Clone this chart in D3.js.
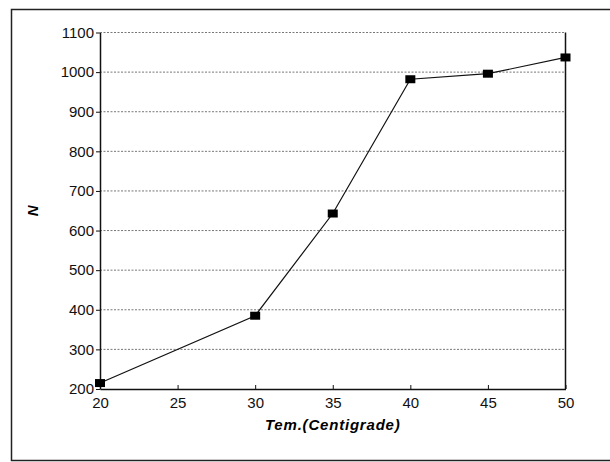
<!DOCTYPE html>
<html>
<head>
<meta charset="utf-8">
<script src="https://cdn.jsdelivr.net/npm/d3@7"></script>
<style>
  body { margin: 0; background: #fff; }
  svg { display: block; }
</style>
</head>
<body>
<div class="canvas"></div>
<script>
// values
const temps = [20, 30, 35, 40, 45, 50];
const counts = [215, 385, 643, 982, 996, 1037];
const xTicks = [20, 25, 30, 35, 40, 45, 50];
const yTicks = [200, 300, 400, 500, 600, 700, 800, 900, 1000, 1100];

const dims = { width: 610, height: 462 };
const margin = { left: 100, top: 32.5, right: 44.5, bottom: 73 };
const plotW = dims.width - margin.left - margin.right;
const plotH = dims.height - margin.top - margin.bottom;
const font = '"Liberation Sans", Arial, sans-serif';

const svg = d3.select('.canvas').append('svg')
    .attr('width', dims.width)
    .attr('height', dims.height);

// outer frame (right side runs off the picture)
svg.append('path')
    .attr('d', 'M640,9.5 H11.5 V460.5 H640')
    .attr('fill', 'none')
    .attr('stroke', '#222')
    .attr('stroke-width', 1.5);

const g = svg.append('g')
    .attr('transform', `translate(${margin.left},${margin.top})`);

const x = d3.scaleLinear().domain([20, 50]).range([0, plotW]);
const y = d3.scaleLinear().domain([200, 1100]).range([plotH, 0]);

// dotted grid
g.append('g')
    .selectAll('line')
    .data(yTicks.filter(d => d > 200))
    .join('line')
    .attr('x1', 0)
    .attr('x2', plotW)
    .attr('y1', d => y(d))
    .attr('y2', d => y(d))
    .attr('stroke', '#777')
    .attr('stroke-width', 1)
    .attr('stroke-dasharray', '2,1.5');

// right border
g.append('line')
    .attr('x1', plotW).attr('x2', plotW)
    .attr('y1', 0).attr('y2', plotH)
    .attr('stroke', '#111').attr('stroke-width', 1.5);

const xAxis = g.append('g')
    .attr('transform', `translate(0,${plotH})`)
    .call(d3.axisBottom(x).tickValues(xTicks).tickFormat(d3.format('d'))
        .tickSize(-4).tickPadding(8).tickSizeOuter(0));

const yAxis = g.append('g')
    .call(d3.axisLeft(y).tickValues(yTicks).tickFormat(d3.format('d'))
        .tickSize(4).tickPadding(2).tickSizeOuter(0));

g.selectAll('.tick text')
    .style('font-family', font)
    .style('font-size', '15px')
    .attr('fill', '#111');
xAxis.selectAll('.tick text').attr('dy', '0.71em');
g.selectAll('.domain').attr('stroke', '#111').attr('stroke-width', 1.5);
g.selectAll('.tick line').attr('stroke', '#111');

// series
const line = d3.line()
    .x((d, i) => x(temps[i]))
    .y(d => y(d));

g.append('path')
    .datum(counts)
    .attr('d', line)
    .attr('fill', 'none')
    .attr('stroke', '#111')
    .attr('stroke-width', 1.2);

g.selectAll('rect.marker')
    .data(counts)
    .join('rect')
    .attr('class', 'marker')
    .attr('x', (d, i) => x(temps[i]) - 5)
    .attr('y', d => y(d) - 4)
    .attr('width', 10)
    .attr('height', 8)
    .attr('fill', '#000');

// axis titles
svg.append('text')
    .attr('x', margin.left + plotW / 2)
    .attr('y', 430)
    .attr('text-anchor', 'middle')
    .style('font-family', font)
    .style('font-size', '15px')
    .style('letter-spacing', '0.8px')
    .style('font-weight', 'bold')
    .style('font-style', 'italic')
    .text('Tem.(Centigrade)');

svg.append('text')
    .attr('transform', `translate(38,${margin.top + plotH / 2}) rotate(-90)`)
    .attr('text-anchor', 'middle')
    .style('font-family', font)
    .style('font-size', '15px')
    .style('font-weight', 'bold')
    .style('font-style', 'italic')
    .text('N');
</script>
</body>
</html>
